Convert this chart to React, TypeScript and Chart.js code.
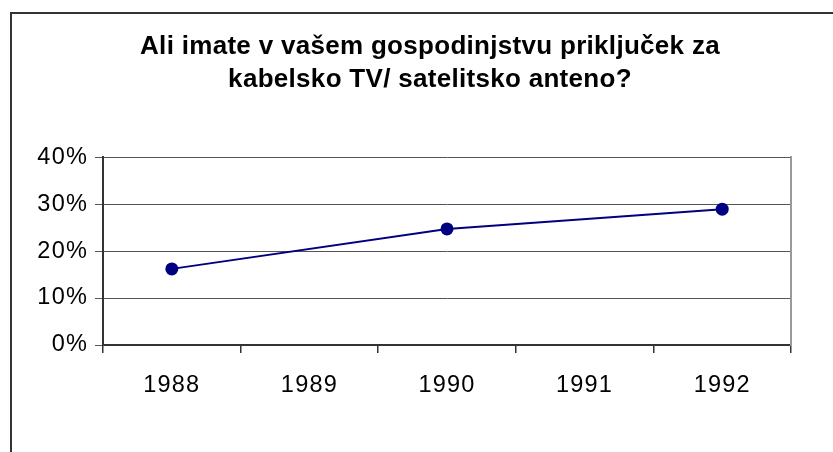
import React, { useEffect, useRef } from "react";
import { Chart, registerables } from "chart.js";

Chart.register(...registerables);

const TITLE_LINES = [
  "Ali imate v vašem gospodinjstvu priključek za",
  "kabelsko TV/ satelitsko anteno?",
];
const YEARS = ["1988", "1989", "1990", "1991", "1992"];
const SHARE_PERCENT: (number | null)[] = [16.2, null, 24.7, null, 28.9];
const Y_MIN = 0;
const Y_MAX = 40;
const Y_STEP = 10;

const CANVAS_W = 836;
const CANVAS_H = 438;
const FONT = "'Liberation Sans', Arial, sans-serif";

export default function App() {
  const ref = useRef<HTMLCanvasElement | null>(null);

  useEffect(() => {
    const canvas = ref.current;
    if (!canvas) return;
    const spacing = {
      id: "letterSpacing",
      beforeUpdate(c: any) {
        c.ctx.letterSpacing = "1.2px";
      },
      beforeDraw(c: any) {
        c.ctx.letterSpacing = "1.2px";
        const t = c.titleBlock;
        if (t && !t.__patched) {
          const orig = t.draw.bind(t);
          t.draw = (...args: any[]) => {
            const ctx = c.ctx;
            const prev = ctx.letterSpacing;
            ctx.letterSpacing = "0.3px";
            orig(...args);
            ctx.letterSpacing = prev;
          };
          t.__patched = true;
        }
      },
    };
    const chart = new Chart(canvas, {
      type: "line",
      data: {
        labels: YEARS,
        datasets: [
          {
            data: SHARE_PERCENT,
            borderColor: "#000080",
            backgroundColor: "#000080",
            borderWidth: 2,
            pointRadius: 6.5,
            pointHoverRadius: 6.5,
            pointBackgroundColor: "#000080",
            pointBorderColor: "#000080",
            pointBorderWidth: 0,
            spanGaps: true,
            tension: 0,
            yAxisID: "y",
          },
        ],
      },
      options: {
        responsive: false,
        animation: false,
        devicePixelRatio: 1,
        layout: { padding: { left: 0, right: 0, top: 0, bottom: 0 } },
        plugins: {
          legend: { display: false },
          tooltip: { enabled: false },
          title: {
            display: true,
            text: TITLE_LINES,
            color: "#000",
            font: { family: FONT, size: 26, weight: "bold", lineHeight: 1.27 },
            padding: { top: 16, bottom: 61 },
          },
        },
        scales: {
          x: {
            type: "category",
            offset: true,
            afterFit: (s: any) => {
              s.height = CANVAS_H - 331;
            },
            grid: {
              display: true,
              offset: true,
              drawOnChartArea: false,
              drawTicks: true,
              tickLength: 8,
              color: "#333",
              lineWidth: 1.5,
            },
            border: { display: true, color: "#333", width: 2 },
            ticks: {
              color: "#000",
              padding: 18,
              maxRotation: 0,
              autoSkip: false,
              font: { family: FONT, size: 23.5, lineHeight: 1.2 },
            },
          },
          y: {
            type: "linear",
            position: "left",
            min: Y_MIN,
            max: Y_MAX,
            afterFit: (s: any) => {
              s.width = 91;
            },
            grid: {
              color: "#555",
              lineWidth: 1,
              tickLength: 8,
              drawTicks: true,
            },
            border: { display: true, color: "#333", width: 2 },
            ticks: {
              stepSize: Y_STEP,
              color: "#000",
              padding: 7,
              font: { family: FONT, size: 23.5 },
              callback: (v: any) => v + "%",
            },
          },
          right: {
            type: "linear",
            position: "right",
            display: true,
            afterFit: (s: any) => {
              s.width = 57;
            },
            grid: { display: false, drawTicks: false },
            ticks: { display: false },
            border: { display: true, color: "#999", width: 2 },
          },
        },
      },
      plugins: [spacing],
    } as any);
    return () => chart.destroy();
  }, []);

  return (
    <div
      style={{
        position: "fixed",
        left: 10,
        top: 12,
        width: CANVAS_W,
        height: 470,
        border: "2px solid #333",
        background: "#fff",
      }}
    >
      <canvas
        ref={ref}
        width={CANVAS_W}
        height={CANVAS_H}
        style={{ display: "block", width: CANVAS_W, height: CANVAS_H }}
      />
    </div>
  );
}
